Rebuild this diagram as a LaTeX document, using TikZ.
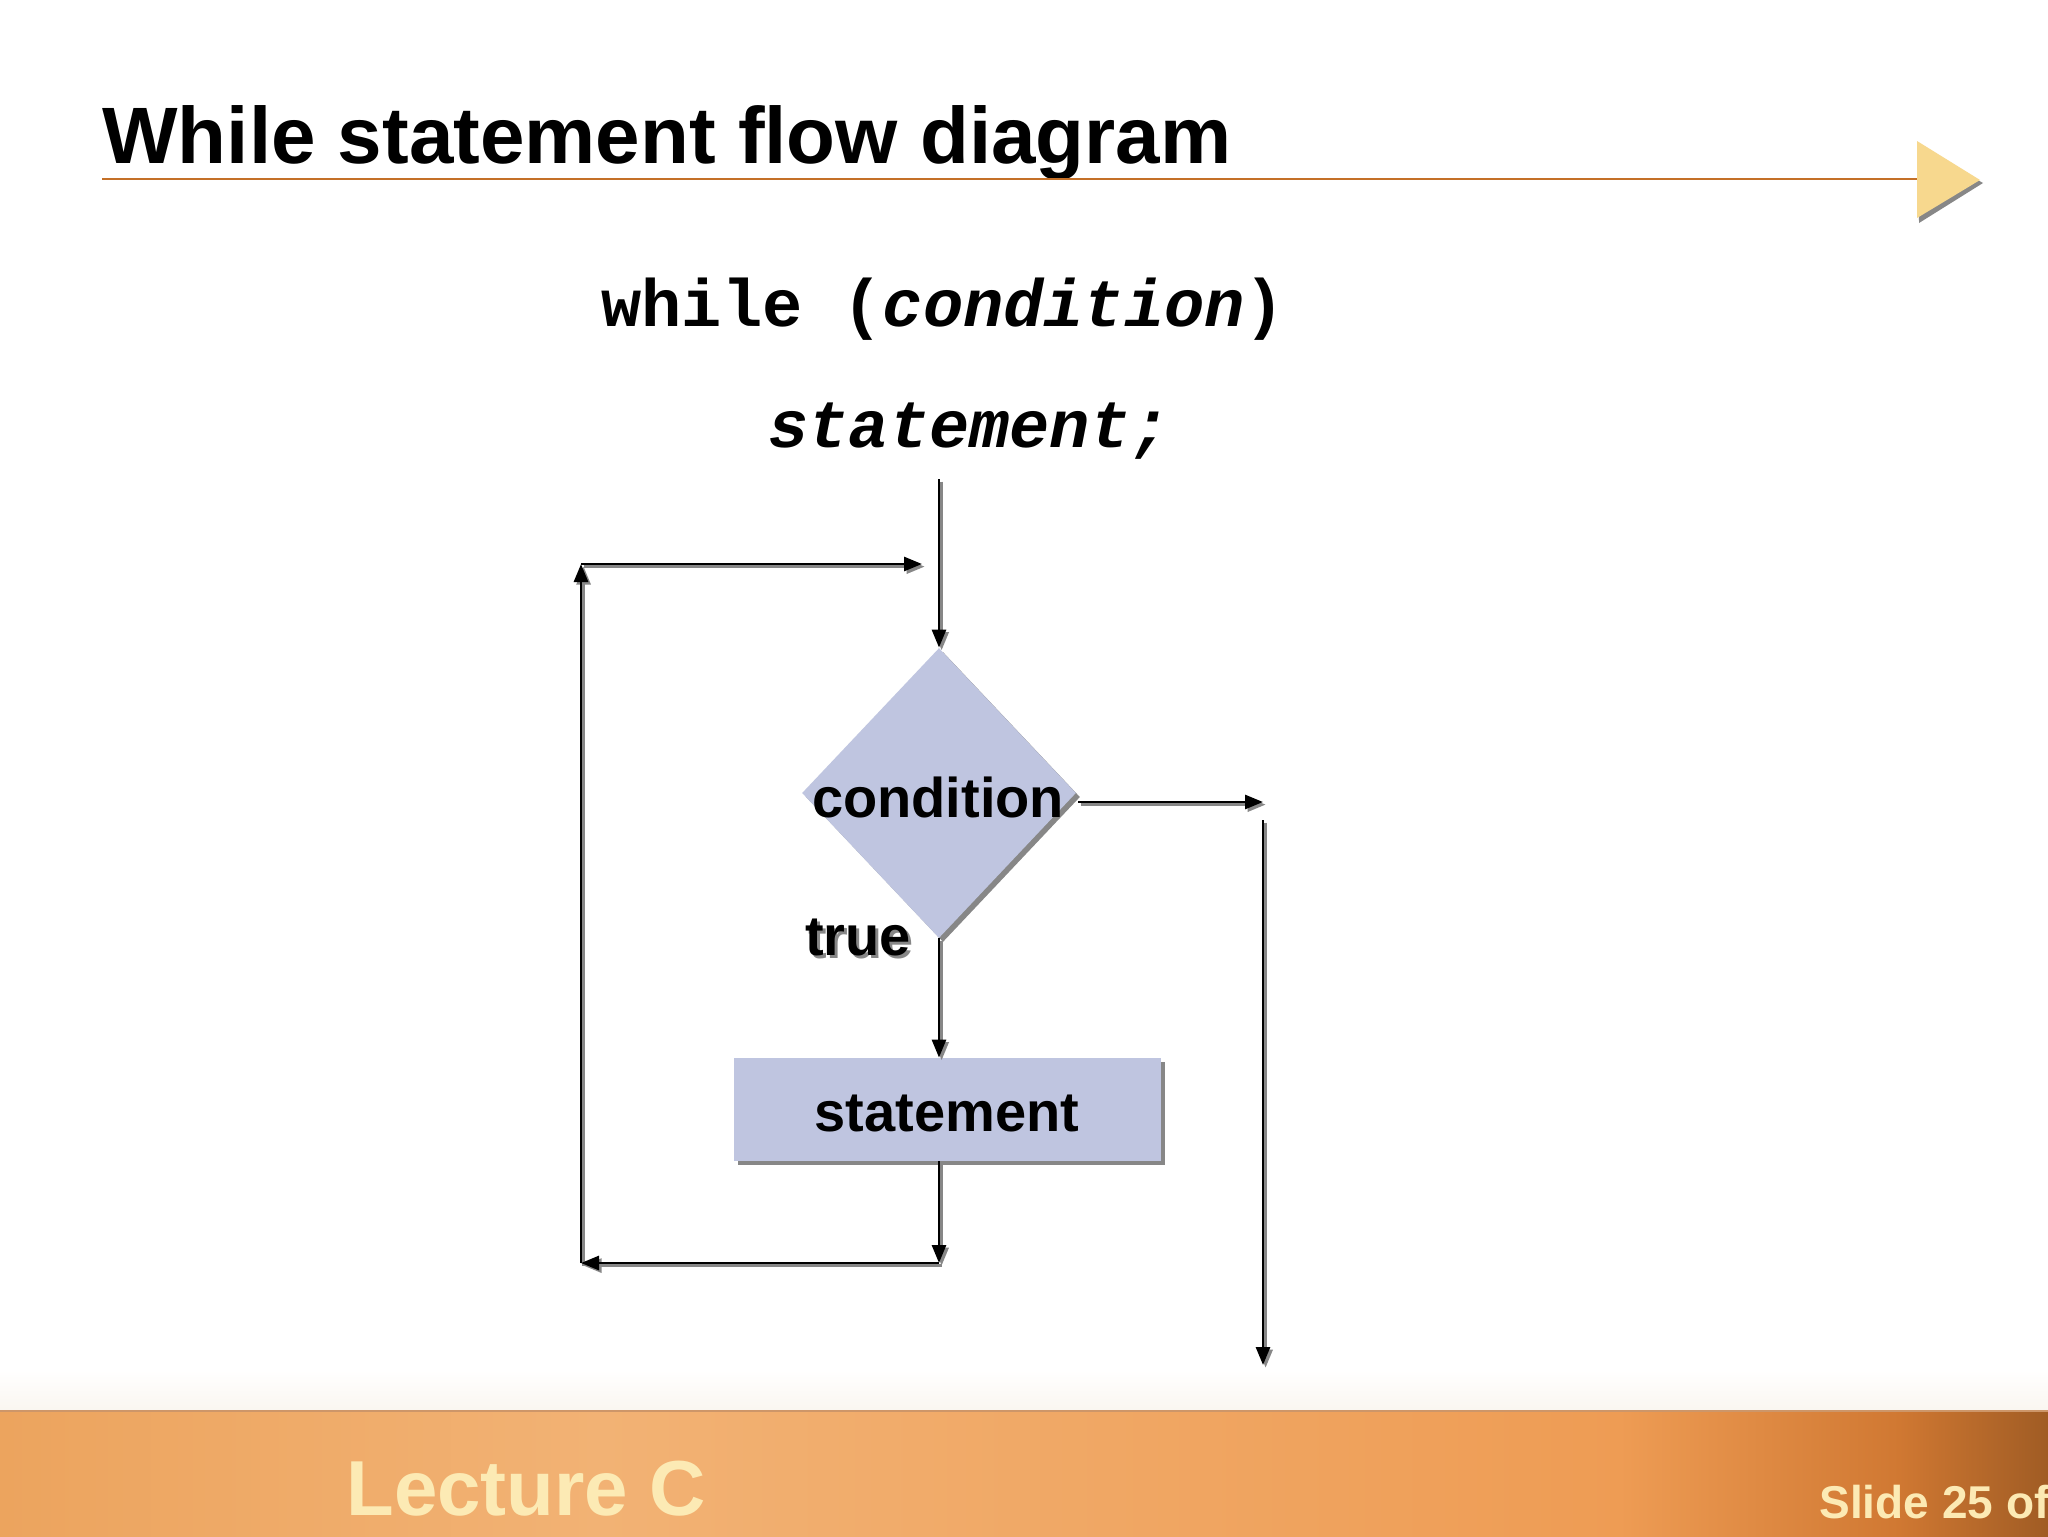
\documentclass[tikz,border=0pt]{standalone}
\usepackage{fontspec}
\setmainfont{Liberation Sans}
\newfontfamily\codefont{Liberation Mono}
\usetikzlibrary{shapes.geometric,arrows.meta}
\definecolor{boxfill}{RGB}{191,197,224}
\definecolor{shadowgray}{RGB}{135,135,135}
\definecolor{rulecol}{RGB}{196,112,40}
\definecolor{trifill}{RGB}{247,216,142}
\definecolor{footA}{RGB}{236,164,94}
\definecolor{footB}{RGB}{242,178,116}
\definecolor{footC}{RGB}{238,156,84}
\definecolor{footD}{RGB}{208,120,50}
\definecolor{footE}{RGB}{160,92,36}
\definecolor{cream}{RGB}{252,234,180}
\definecolor{fadecol}{RGB}{250,246,240}
\definecolor{bandedge}{RGB}{205,150,105}
\begin{document}
\begin{tikzpicture}[x=0.5pt,y=-0.5pt,
  arr/.style={draw=black, line width=1.4pt, -{Triangle[length=9pt,width=7pt]}},
  arrshadow/.style={draw=shadowgray, line width=1.4pt, -{Triangle[length=9pt,width=7pt]},
    transform canvas={shift={(1.3pt,-1.3pt)}}},
  lbl/.style={inner sep=0pt, font=\fontsize{28}{34}\selectfont\bfseries},
  codetxt/.style={anchor=base west, inner sep=0pt, font=\codefont\fontsize{33.5}{40}\selectfont\bfseries},
  diam/.style={diamond, minimum width=137pt, minimum height=145pt, inner sep=0pt},
  stbox/.style={rectangle, minimum width=213.5pt, minimum height=51.5pt, inner sep=0pt}]
\useasboundingbox (0,0) rectangle (2048,1536);
\clip (0,0) rectangle (2048,1536);
\fill[white] (0,0) rectangle (2048,1536);

% footer
\shade[top color=white, bottom color=fadecol] (0,1370) rectangle (2048,1411);
\shade[left color=footA, right color=footB] (0,1411) rectangle (600,1536);
\shade[left color=footB, right color=footC] (599,1411) rectangle (1620,1536);
\shade[left color=footC, right color=footD] (1619,1411) rectangle (1900,1536);
\shade[left color=footD, right color=footE] (1899,1411) rectangle (2048,1536);
\draw[bandedge, line width=1pt] (0,1411) -- (2048,1411);
\node[anchor=base west, inner sep=0pt, text=cream, font=\fontsize{39}{46}\selectfont\bfseries] (lecture) at (346,1515) {Lecture C};
\node[anchor=base west, inner sep=0pt, text=cream, font=\fontsize{23}{28}\selectfont\bfseries] (slide) at (1819,1518) {Slide 25 of};

% title
\node[anchor=base west, inner sep=0pt, font=\fontsize{40}{48}\selectfont\bfseries] (title) at (102,163) {While statement flow diagram};
\draw[rulecol, line width=1pt] (102,179) -- (1920,179);
\fill[shadowgray] (1918,146) -- (1983,183) -- (1919,223) -- cycle;
\fill[trifill] (1917,141) -- (1980,180) -- (1917,218) -- cycle;

% code
\node[codetxt] (code1) at (601,326) {while (\textit{condition})};
\node[codetxt] (code2) at (768,447) {\textit{statement;}};

% shapes
\node[diam, fill=shadowgray] at (943,797) {};
\node[diam, fill=boxfill] (cond) at (939,793) {};
\node[lbl] (condtxt) at (938,797) {condition};
\node[lbl, text=shadowgray] at (861,940) {true};
\node[lbl] (truetxt) at (858,937) {true};
\node[stbox, fill=shadowgray] at (951.5,1113.5) {};
\node[stbox, fill=boxfill] (stmt) at (947.5,1109.5) {};
\node[lbl] (stmttxt) at (947,1113) {statement};

% coordinates
\coordinate (top) at (939,479);
\coordinate (exitT) at (1263,802);
\coordinate (exitA) at (1263,820);
\coordinate (exitB) at (1263,1365);
\coordinate (bl) at (939,1263);
\coordinate (lb) at (581,1263);
\coordinate (lt) at (581,564);
\coordinate (tr) at (922,564);
\coordinate (condR) at (1078,802);

% connectors: shadows
\draw[arrshadow] (top) -- (cond.north);
\draw[arrshadow] (condR) -- (exitT);
\draw[arrshadow] (exitA) -- (exitB);
\draw[arrshadow] (cond.south) -- (cond.south |- stmt.north);
\draw[arrshadow] (cond.south |- stmt.south) -- (bl);
\draw[arrshadow] (bl) -- (lb);
\draw[arrshadow] (lb) -- (lt);
\draw[arrshadow] (lt) -- (tr);
% connectors
\draw[arr] (top) -- (cond.north);
\draw[arr] (condR) -- (exitT);
\draw[arr] (exitA) -- (exitB);
\draw[arr] (cond.south) -- (cond.south |- stmt.north);
\draw[arr] (cond.south |- stmt.south) -- (bl);
\draw[arr] (bl) -- (lb);
\draw[arr] (lb) -- (lt);
\draw[arr] (lt) -- (tr);
\end{tikzpicture}
\end{document}
